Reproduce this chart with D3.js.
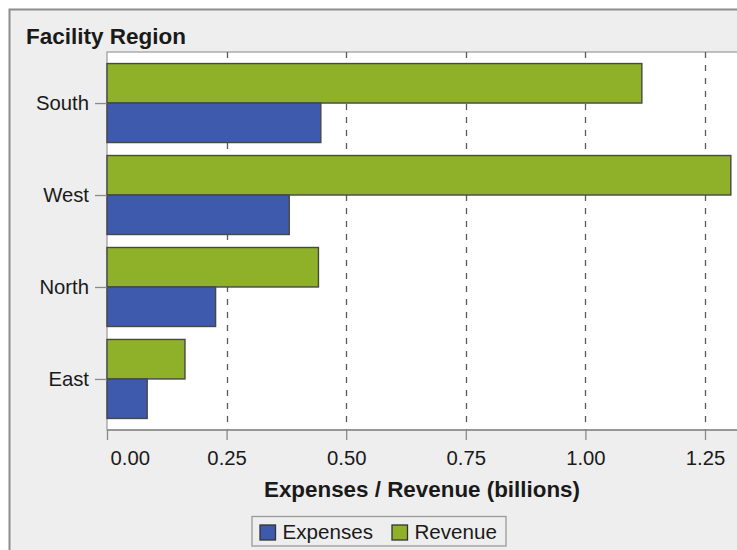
<!DOCTYPE html>
<html>
<head>
<meta charset="utf-8">
<script src="https://cdn.jsdelivr.net/npm/d3@7"></script>
<style>
  html, body { margin: 0; padding: 0; background: #ffffff; }
  svg { display: block; }
  text { font-family: "Liberation Sans", Arial, sans-serif; fill: #1a1a1a; }
</style>
</head>
<body>
<svg id="chart" width="737" height="550"></svg>
<script>
// Regions shown on the vertical axis, top to bottom
const regions = ["South", "West", "North", "East"];
// Values in billions
const expenses = [0.447, 0.381, 0.227, 0.084];
const revenue  = [1.118, 1.304, 0.442, 0.163];
// Series drawn within each region band (upper bar first)
const seriesNames = ["Revenue", "Expenses"];
const legendNames = ["Expenses", "Revenue"];
const xTicks = [0, 0.25, 0.5, 0.75, 1.0, 1.25];

const colors = { Expenses: "#3e5aad", Revenue: "#8fb12a" };
const valuesBySeries = { Expenses: expenses, Revenue: revenue };

const svg = d3.select("#chart");

// Outer panel
svg.append("rect")
  .attr("x", 9.5).attr("y", 9.5)
  .attr("width", 800).attr("height", 600)
  .attr("fill", "#eeeeee")
  .attr("stroke", "#8e8e8e")
  .attr("stroke-width", 2);

// Panel title
svg.append("text")
  .attr("x", 26).attr("y", 43.5)
  .attr("font-size", 22.5)
  .attr("font-weight", "bold")
  .attr("fill", "#111")
  .text("Facility Region");

const plot = { left: 107, top: 52, bottom: 430, right: 760 };

const x = d3.scaleLinear()
  .domain([0, 1.365])
  .range([plot.left, plot.left + 1.365 * 478.4]);

const y = d3.scalePoint()
  .domain(regions)
  .range([plot.top, plot.bottom])
  .padding(0.555);

const inner = d3.scaleBand()
  .domain(seriesNames)
  .range([-39.5, 39.5])
  .paddingInner(0);

// Plot background
svg.append("rect")
  .attr("x", plot.left).attr("y", plot.top)
  .attr("width", plot.right - plot.left)
  .attr("height", plot.bottom - plot.top)
  .attr("fill", "#ffffff")
  .attr("stroke", "#9a9a9a")
  .attr("stroke-width", 1.2);

// Dashed vertical gridlines
svg.append("g")
  .selectAll("line")
  .data(xTicks.filter(d => d > 0))
  .join("line")
  .attr("x1", d => Math.round(x(d)) + 0.5)
  .attr("x2", d => Math.round(x(d)) + 0.5)
  .attr("y1", plot.top)
  .attr("y2", plot.bottom)
  .attr("stroke", "#5a5a5a")
  .attr("stroke-width", 1.3)
  .attr("stroke-dasharray", "6,7");

// Bars
const groups = svg.append("g")
  .selectAll("g")
  .data(regions)
  .join("g")
  .attr("transform", d => `translate(0,${y(d)})`);

groups.selectAll("rect")
  .data((region, i) => seriesNames.map(s => ({ s, v: valuesBySeries[s][i] })))
  .join("rect")
  .attr("x", x(0))
  .attr("y", d => inner(d.s))
  .attr("width", d => x(d.v) - x(0))
  .attr("height", inner.bandwidth())
  .attr("fill", d => colors[d.s])
  .attr("stroke", "#474747")
  .attr("stroke-width", 1.4);

// Bottom axis
const xAxis = svg.append("g")
  .attr("transform", `translate(0,${plot.bottom})`)
  .call(d3.axisBottom(x)
    .tickValues(xTicks)
    .tickFormat(d3.format(".2f"))
    .tickSize(10)
    .tickPadding(10.5));
xAxis.select(".domain").attr("stroke", "#8a8a8a").attr("stroke-width", 1.3)
  .attr("d", `M${plot.left},0H${plot.right}`);
xAxis.selectAll(".tick line").attr("stroke", "#8a8a8a").attr("stroke-width", 1.3);
xAxis.selectAll(".tick text")
  .attr("font-size", 20.3)
  .attr("font-family", "Liberation Sans, Arial, sans-serif")
  .attr("fill", "#222");
// first label starts at the axis origin
xAxis.selectAll(".tick text").filter(d => d === 0)
  .attr("text-anchor", "start").attr("x", 3);

// Left axis
const yAxis = svg.append("g")
  .attr("transform", `translate(${plot.left},0)`)
  .call(d3.axisLeft(y).tickSize(12).tickPadding(6));
yAxis.select(".domain").remove();
yAxis.selectAll(".tick line").attr("stroke", "#8a8a8a").attr("stroke-width", 1.3);
yAxis.selectAll(".tick text")
  .attr("font-size", 20.3)
  .attr("font-family", "Liberation Sans, Arial, sans-serif")
  .attr("fill", "#222")
  .attr("dy", "0.33em");

// Axis title
svg.append("text")
  .attr("x", 422).attr("y", 497)
  .attr("text-anchor", "middle")
  .attr("font-size", 22.4)
  .attr("font-weight", "bold")
  .attr("fill", "#111")
  .text("Expenses / Revenue (billions)");

// Legend
const legend = svg.append("g");
legend.append("rect")
  .attr("x", 252).attr("y", 516.5)
  .attr("width", 254).attr("height", 29.5)
  .attr("fill", "#eeeeee")
  .attr("stroke", "#9a9a9a")
  .attr("stroke-width", 1.3);

const legendX = d3.scaleOrdinal().domain(legendNames).range([260, 392]);
const items = legend.selectAll("g.item")
  .data(legendNames)
  .join("g")
  .attr("class", "item")
  .attr("transform", d => `translate(${legendX(d)},525)`);
items.append("rect")
  .attr("width", 15.5).attr("height", 15)
  .attr("fill", d => colors[d])
  .attr("stroke", "#333")
  .attr("stroke-width", 1.3);
items.append("text")
  .attr("x", 22.5).attr("y", 13.5)
  .attr("font-size", 20.6)
  .attr("fill", "#222")
  .text(d => d);
</script>
</body>
</html>
